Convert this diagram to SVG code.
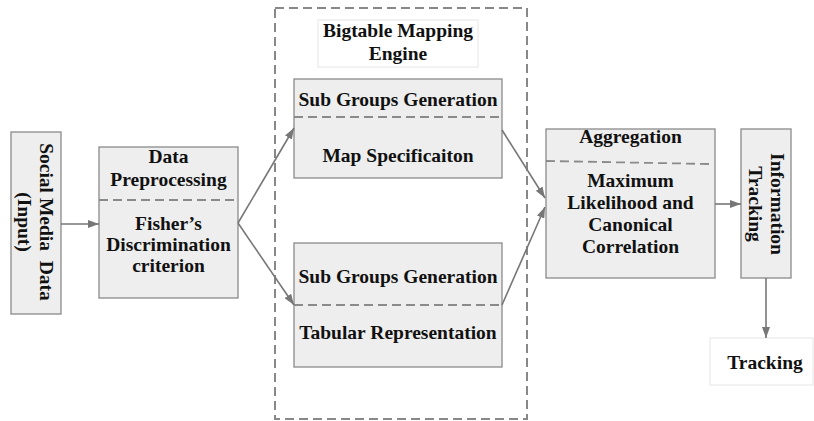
<svg xmlns="http://www.w3.org/2000/svg" width="814" height="421" viewBox="0 0 814 421">
<defs>
<marker id="ah" markerUnits="userSpaceOnUse" markerWidth="11" markerHeight="8" refX="11" refY="4" orient="auto">
<path d="M0,0 L11,4 L0,8 z" fill="#777"/>
</marker>
<style>
.box{fill:#eeeeee;stroke:#8a8a8a;stroke-width:1.3}
.wbox{fill:#ffffff;stroke:#e6e6e6;stroke-width:1}
.dash{fill:none;stroke:#888;stroke-width:2;stroke-dasharray:9 5}
.sep{fill:none;stroke:#8a8a8a;stroke-width:1.8;stroke-dasharray:9 5}
.t{font-family:"Liberation Serif","Times New Roman",serif;font-weight:bold;font-size:19.5px;fill:#111;text-anchor:middle;white-space:pre}
.c{fill:none;stroke:#777;stroke-width:1.6;marker-end:url(#ah)}
</style>
</defs>
<rect width="814" height="421" fill="#ffffff"/>

<g id="engine">
<rect class="dash" x="275" y="8" width="252" height="411"/>
<g id="engine-label">
<rect class="wbox" x="318" y="20" width="160" height="47"/>
<text class="t" x="398" y="37">Bigtable Mapping</text>
<text class="t" x="398" y="60">Engine</text>
</g>
</g>

<g id="social-media">
<rect class="box" x="11" y="132" width="50" height="182"/>
<text class="t" transform="translate(40,222) rotate(90)">Social Media  Data</text>
<text class="t" transform="translate(18,222) rotate(90)">(Input)</text>
</g>

<g id="preprocessing">
<rect class="box" x="99" y="147" width="139" height="151"/>
<line class="sep" x1="99" y1="200" x2="238" y2="200"/>
<text class="t" x="168.5" y="163">Data</text>
<text class="t" x="168.5" y="186">Preprocessing</text>
<text class="t" x="168.5" y="230">Fisher’s</text>
<text class="t" x="168.5" y="251">Discrimination</text>
<text class="t" x="168.5" y="272">criterion</text>
</g>

<g id="map-spec">
<rect class="box" x="294" y="79" width="208" height="99"/>
<line class="sep" x1="294" y1="117" x2="502" y2="117"/>
<text class="t" x="398" y="106">Sub Groups Generation</text>
<text class="t" x="398" y="162">Map Specificaiton</text>
</g>

<g id="tabular">
<rect class="box" x="294" y="243" width="208" height="124"/>
<line class="sep" x1="294" y1="305" x2="502" y2="305"/>
<text class="t" x="398" y="283">Sub Groups Generation</text>
<text class="t" x="398" y="339">Tabular Representation</text>
</g>

<g id="aggregation">
<rect class="box" x="546" y="129" width="169" height="149"/>
<line class="sep" x1="546" y1="161" x2="710" y2="164"/>
<text class="t" x="630.5" y="143">Aggregation</text>
<text class="t" x="630.5" y="187">Maximum</text>
<text class="t" x="630.5" y="209">Likelihood and</text>
<text class="t" x="630.5" y="231">Canonical</text>
<text class="t" x="630.5" y="253">Correlation</text>
</g>

<g id="info-tracking">
<rect class="box" x="741" y="129" width="50" height="149"/>
<text class="t" transform="translate(771,204) rotate(90)">Information</text>
<text class="t" transform="translate(749,204) rotate(90)">Tracking</text>
</g>

<g id="tracking">
<rect class="wbox" x="710" y="338" width="103" height="47"/>
<text class="t" x="765" y="369">Tracking</text>
</g>

<g id="connectors">
<line class="c" x1="61" y1="224" x2="99" y2="224"/>
<line class="c" x1="238" y1="223" x2="294" y2="128"/>
<line class="c" x1="238" y1="223" x2="294" y2="305"/>
<line class="c" x1="502" y1="130" x2="545" y2="198"/>
<line class="c" x1="502" y1="305" x2="545" y2="207"/>
<line class="c" x1="715" y1="204" x2="741" y2="204"/>
<line class="c" x1="766" y1="278" x2="766" y2="338"/>
</g>
</svg>
